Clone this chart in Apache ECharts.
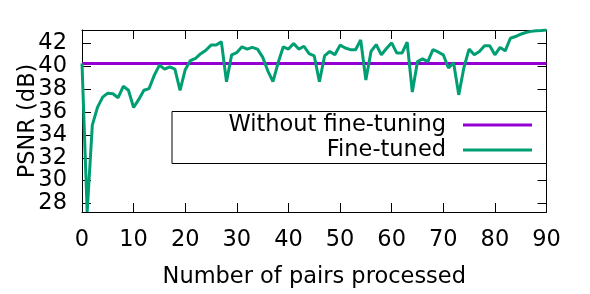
<!DOCTYPE html>
<html>
<head>
<meta charset="utf-8">
<script src="https://cdn.jsdelivr.net/npm/echarts@6/dist/echarts.min.js"></script>
<style>
  html, body { margin: 0; padding: 0; background: #fff; }
  #psnr-chart { width: 590px; height: 294px; }
</style>
</head>
<body>
<div id="psnr-chart"></div>
<script>
// PSNR vs number of pairs processed (one value per pair, 0..90)
const fineTuned = [
  40.25, 27.26, 34.85, 36.4, 37.3, 37.65, 37.6, 37.25, 38.25, 37.9,
  36.4, 37.1, 37.9, 38.05, 39.2, 40.1, 39.75, 39.95, 39.75, 37.9,
  39.7, 40.5, 40.7, 41.1, 41.4, 41.85, 41.85, 42.15, 38.65, 41.0,
  41.2, 41.7, 41.5, 41.65, 41.5, 40.8, 39.6, 38.65, 40.3, 41.7,
  41.5, 42.0, 41.5, 41.75, 41.1, 40.9, 38.65, 40.9, 41.3, 41.0,
  41.85, 41.6, 41.45, 41.45, 42.3, 38.8, 41.3, 41.9, 41.0, 41.55,
  42.05, 41.15, 41.15, 42.1, 37.75, 40.4, 40.65, 40.4, 41.45, 41.25,
  41.0, 39.85, 40.3, 37.5, 39.9, 41.5, 41.0, 41.3, 41.8, 41.8,
  41.0, 41.65, 41.35, 42.45, 42.6, 42.8, 42.95, 43.05, 43.1, 43.12,
  43.17
];
const withoutFineTuning = 40.25;
const xTicks = [0, 10, 20, 30, 40, 50, 60, 70, 80, 90];
const yTicks = [28, 30, 32, 34, 36, 38, 40, 42];
const seriesNames = ['Without fine-tuning', 'Fine-tuned'];
const seriesColors = ['#9400d3', '#009e73'];

const FONT = 'DejaVu Sans';
const FONT_SIZE = 22.5;
const pairs = fineTuned.map((v, i) => i);

const myChart = echarts.init(document.getElementById('psnr-chart'), null, { renderer: 'canvas' });

const tickStyle = { inside: true, length: 9, lineStyle: { color: '#000', width: 1 } };
const lineStyle = { show: true, onZero: false, lineStyle: { color: '#000', width: 1 } };
const labelStyle = { color: '#000', fontFamily: FONT, fontSize: FONT_SIZE };

myChart.setOption({
  animation: false,
  backgroundColor: '#fff',
  grid: { left: 82, right: 43.5, top: 30, bottom: 82, containLabel: false, outerBoundsMode: 'none' },
  xAxis: [{
    type: 'value',
    min: xTicks[0],
    max: xTicks[xTicks.length - 1],
    interval: 10,
    position: 'bottom',
    name: 'Number of pairs processed',
    nameLocation: 'middle',
    nameGap: 54,
    nameMoveOverlap: false,
    nameTextStyle: labelStyle,
    axisLine: lineStyle,
    axisTick: tickStyle,
    axisLabel: Object.assign({ margin: 17 }, labelStyle),
    splitLine: { show: false }
  }, {
    type: 'value',
    min: xTicks[0],
    max: xTicks[xTicks.length - 1],
    interval: 10,
    position: 'top',
    axisLine: lineStyle,
    axisTick: tickStyle,
    axisLabel: { show: false },
    splitLine: { show: false }
  }],
  yAxis: [{
    type: 'value',
    min: 27.26,
    max: 43.17,
    position: 'left',
    name: 'PSNR (dB)',
    nameLocation: 'middle',
    nameGap: 42,
    nameMoveOverlap: false,
    nameTextStyle: labelStyle,
    axisLine: lineStyle,
    axisTick: Object.assign({ customValues: yTicks }, tickStyle),
    axisLabel: Object.assign({ customValues: yTicks, margin: 15 }, labelStyle),
    splitLine: { show: false }
  }, {
    type: 'value',
    min: 27.26,
    max: 43.17,
    position: 'right',
    axisLine: lineStyle,
    axisTick: Object.assign({ customValues: yTicks }, tickStyle),
    axisLabel: { show: false },
    splitLine: { show: false }
  }],
  series: [{
    name: seriesNames[0],
    type: 'line',
    showSymbol: false,
    color: seriesColors[0],
    lineStyle: { width: 3, color: seriesColors[0] },
    data: pairs.map(x => [x, withoutFineTuning])
  }, {
    name: seriesNames[1],
    type: 'line',
    showSymbol: false,
    color: seriesColors[1],
    lineStyle: { width: 3, color: seriesColors[1] },
    data: pairs.map(x => [x, fineTuned[x]])
  }],
  // key box, gnuplot style: text right-aligned, sample line on the right
  graphic: [
    { type: 'rect', shape: { x: 172, y: 111.5, width: 374.5, height: 52 },
      style: { fill: '#fff', stroke: '#000', lineWidth: 1 }, z: 10 },
    { type: 'text', x: 446, y: 125, z: 11,
      style: { text: seriesNames[0], align: 'right', verticalAlign: 'middle', fill: '#000', font: FONT_SIZE + 'px "DejaVu Sans"' } },
    { type: 'text', x: 446, y: 150, z: 11,
      style: { text: seriesNames[1], align: 'right', verticalAlign: 'middle', fill: '#000', font: FONT_SIZE + 'px "DejaVu Sans"' } },
    { type: 'line', shape: { x1: 463, y1: 125, x2: 532, y2: 125 }, z: 11,
      style: { stroke: seriesColors[0], lineWidth: 3 } },
    { type: 'line', shape: { x1: 463, y1: 150, x2: 532, y2: 150 }, z: 11,
      style: { stroke: seriesColors[1], lineWidth: 3 } }
  ]
});
</script>
</body>
</html>
